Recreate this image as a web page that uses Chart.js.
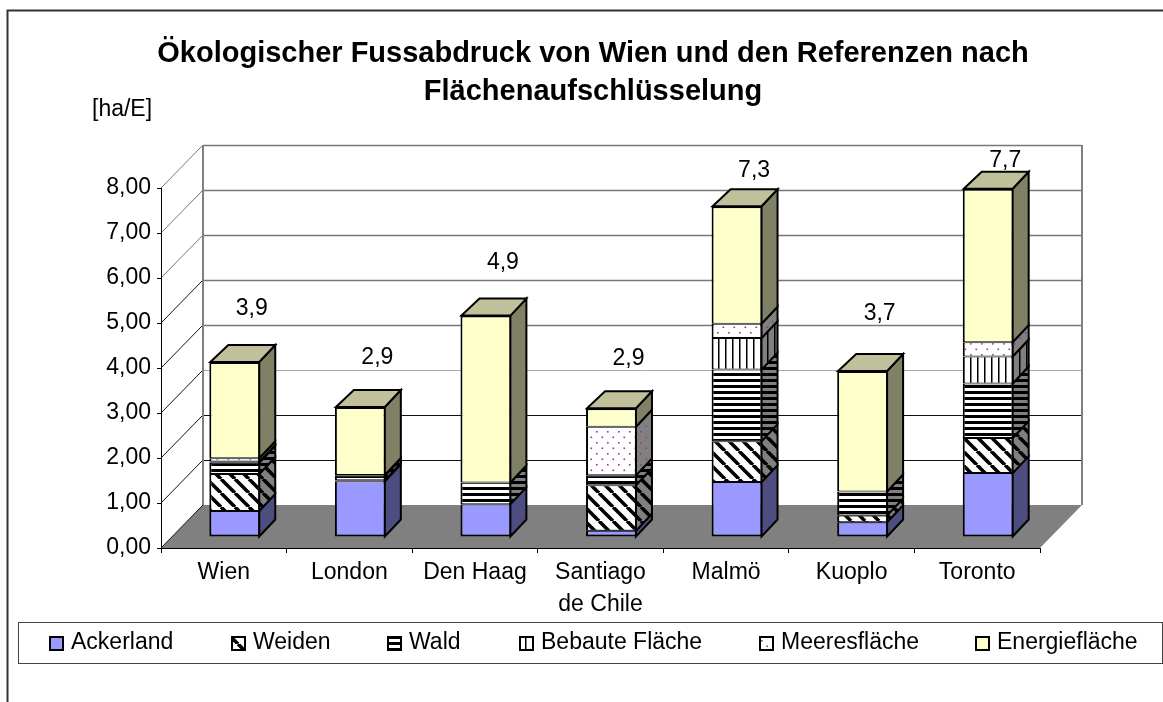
<!DOCTYPE html>
<html>
<head>
<meta charset="utf-8">
<title>Ökologischer Fussabdruck</title>
<script src="https://cdn.jsdelivr.net/npm/chart.js@4/dist/chart.umd.min.js"></script>
<style>
  html, body { margin: 0; padding: 0; background: #fff; }
  #wrap { width: 1163px; height: 702px; }
</style>
</head>
<body>
<div id="wrap"><canvas id="chart" width="1163" height="702"></canvas></div>
<script>
const cities = ['Wien', 'London', 'Den Haag', ['Santiago', 'de Chile'], 'Malmö', 'Kuoplo', 'Toronto'];
const totals = ['3,9', '2,9', '4,9', '2,9', '7,3', '3,7', '7,7'];

const ackerland = [0.58, 1.24, 0.73, 0.14, 1.22, 0.33, 1.42];
const weiden = [0.82, 0.02, 0.00, 1.01, 0.91, 0.15, 0.78];
const wald = [0.25, 0.10, 0.48, 0.22, 1.59, 0.53, 1.21];
const bebaut = [0.02, 0.02, 0.00, 0.00, 0.70, 0.00, 0.60];
const meer = [0.08, 0.00, 0.00, 1.08, 0.32, 0.00, 0.32];
const energie = [2.14, 1.51, 3.71, 0.41, 2.61, 2.68, 3.41];

const yTicks = [0, 1, 2, 3, 4, 5, 6, 7, 8];

// kleine Kachel für die Schraffur
function tile(w, h, bg, draw) {
    const c = document.createElement('canvas');
    c.width = w;
    c.height = h;
    const g = c.getContext('2d');
    g.fillStyle = bg;
    g.fillRect(0, 0, w, h);
    draw(g);
    return g.createPattern(c, 'repeat');
}

function hatchDiag(bg) {
    return tile(14, 14, bg, g => {
        g.strokeStyle = '#000';
        g.lineWidth = 3.6;
        g.beginPath();
        for (let i = -14; i <= 14; i += 14) {
            g.moveTo(i, 0);
            g.lineTo(i + 14, 14);
        }
        g.stroke();
    });
}

function hatchHor(bg) {
    return tile(8, 6, bg, g => {
        g.fillStyle = '#000';
        g.fillRect(0, 0, 8, 3);
    });
}

function hatchVer(bg) {
    return tile(7, 8, bg, g => {
        g.fillStyle = '#000';
        g.fillRect(0, 0, 1.5, 8);
    });
}

function dots(bg) {
    return tile(11, 11, bg, g => {
        g.fillStyle = '#993399';
        g.fillRect(2, 2, 1.6, 1.6);
        g.fillRect(7.5, 7.5, 1.6, 1.6);
    });
}

const series = [
    {label: 'Ackerland', data: ackerland, front: '#9999FF', side: '#4D4D80'},
    {label: 'Weiden', data: weiden, front: hatchDiag('#fff'), side: hatchDiag('#808080')},
    {label: 'Wald', data: wald, front: hatchHor('#fff'), side: hatchHor('#808080')},
    {label: 'Bebaute Fläche', data: bebaut, front: hatchVer('#fff'), side: hatchVer('#808080')},
    {label: 'Meeresfläche', data: meer, front: dots('#fff'), side: dots('#808080')},
    {label: 'Energiefläche', data: energie, front: '#FFFFCC', side: '#808066', top: '#C0C09A'}
];

const FONT = '"Liberation Sans", Arial, sans-serif';
const DEPTH_X = 42, DEPTH_Y = 43;   // Tiefe der Bodenplatte
const BAR_SHIFT = 11;               // Säulen stehen mitten auf der Platte
const BAR_DX = 16, BAR_DY = 17;     // Tiefe der Säulen
const labelLift = [53, 49, 53, 50, 36, 57, 28];

const room = {
    id: 'room',
    afterLayout(chart) {
        // Titel über die ganze Breite zentrieren, nicht über die Achse
        chart.titleBlock.left = 0;
        chart.titleBlock.right = 1186;
    },
    beforeDraw(chart) {
        const {ctx, scales: {x, y}} = chart;
        const l = x.left, r = x.right, b = y.bottom;
        ctx.save();
        // Rahmen
        ctx.strokeStyle = '#333';
        ctx.lineWidth = 2;
        ctx.beginPath();
        ctx.moveTo(7.5, 702);
        ctx.lineTo(7.5, 10.5);
        ctx.lineTo(1163, 10.5);
        ctx.stroke();
        // Boden
        ctx.fillStyle = '#808080';
        ctx.beginPath();
        ctx.moveTo(l, b);
        ctx.lineTo(r, b);
        ctx.lineTo(r + DEPTH_X, b - DEPTH_Y);
        ctx.lineTo(l + DEPTH_X, b - DEPTH_Y);
        ctx.closePath();
        ctx.fill();
        // Gitterlinien auf Rückwand und linker Seitenwand
        yTicks.forEach(v => {
            const py = y.getPixelForValue(v);
            if (v > 0) {
                ctx.strokeStyle = v >= 4 ? '#777' : (v === 3 ? '#aaa' : '#111');
                ctx.lineWidth = v >= 4 ? 1.5 : 1;
                ctx.beginPath();
                ctx.moveTo(l + DEPTH_X, py - DEPTH_Y + 0.5);
                ctx.lineTo(r + DEPTH_X, py - DEPTH_Y + 0.5);
                ctx.stroke();
            }
            ctx.strokeStyle = v >= 6 ? '#777' : '#111';
            ctx.lineWidth = 1;
            ctx.beginPath();
            ctx.moveTo(l, py);
            ctx.lineTo(l + DEPTH_X, py - DEPTH_Y);
            ctx.stroke();
        });
        // Wandkanten
        ctx.strokeStyle = '#808080';
        ctx.lineWidth = 2;
        ctx.beginPath();
        ctx.moveTo(l + DEPTH_X, b - DEPTH_Y);
        ctx.lineTo(l + DEPTH_X, y.top - DEPTH_Y);
        ctx.moveTo(r + DEPTH_X, b - DEPTH_Y);
        ctx.lineTo(r + DEPTH_X, y.top - DEPTH_Y);
        ctx.stroke();
        ctx.restore();
    },
    beforeDatasetsDraw(chart) {
        chart.ctx.save();
        chart.ctx.translate(BAR_SHIFT, -BAR_SHIFT);
    },
    afterDatasetsDraw(chart) {
        const {ctx} = chart;
        ctx.strokeStyle = '#000';
        ctx.lineWidth = 2;
        series.forEach((s, i) => {
            chart.getDatasetMeta(i).data.forEach((bar, k) => {
                if (s.data[k] <= 0) return;
                const right = bar.x + bar.width / 2 - 1;
                ctx.fillStyle = s.side;
                ctx.beginPath();
                ctx.moveTo(right, bar.y);
                ctx.lineTo(right + BAR_DX, bar.y - BAR_DY);
                ctx.lineTo(right + BAR_DX, bar.base - BAR_DY);
                ctx.lineTo(right, bar.base);
                ctx.closePath();
                ctx.fill();
                ctx.stroke();
                if (s.top) {
                    const left = bar.x - bar.width / 2 + 1;
                    ctx.fillStyle = s.top;
                    ctx.beginPath();
                    ctx.moveTo(left, bar.y);
                    ctx.lineTo(right, bar.y);
                    ctx.lineTo(right + BAR_DX, bar.y - BAR_DY);
                    ctx.lineTo(left + BAR_DX + 2, bar.y - BAR_DY);
                    ctx.closePath();
                    ctx.fill();
                    ctx.stroke();
                }
            });
        });
        ctx.restore();
        // Summen über den Säulen
        const meta = chart.getDatasetMeta(series.length - 1);
        ctx.save();
        ctx.fillStyle = '#000';
        ctx.font = '23px ' + FONT;
        ctx.textAlign = 'center';
        ctx.textBaseline = 'middle';
        totals.forEach((t, k) => {
            const bar = meta.data[k];
            ctx.fillText(t, bar.x + BAR_SHIFT + 17, bar.y - BAR_SHIFT - labelLift[k]);
        });
        ctx.restore();
    },
    afterDraw(chart) {
        const {ctx} = chart;
        ctx.save();
        ctx.fillStyle = '#000';
        ctx.font = '23px ' + FONT;
        ctx.textBaseline = 'middle';
        ctx.fillText('[ha/E]', 92, 110);
        // Legende
        ctx.strokeStyle = '#444';
        ctx.lineWidth = 1;
        ctx.strokeRect(18.5, 622.5, 1144, 41);
        const markers = [50, 232, 388, 520, 760, 976];
        series.forEach((s, i) => {
            const mx = markers[i];
            ctx.fillStyle = s.front;
            ctx.fillRect(mx, 637, 13, 13);
            ctx.lineWidth = 2;
            ctx.strokeStyle = '#000';
            ctx.strokeRect(mx, 637, 13, 13);
            ctx.fillStyle = '#000';
            ctx.fillText(s.label, mx + 21, 643);
        });
        ctx.restore();
    }
};

new Chart(document.getElementById('chart'), {
    type: 'bar',
    data: {
        labels: cities,
        datasets: series.map((s, i) => ({
            label: s.label,
            data: s.data,
            backgroundColor: s.front,
            borderColor: '#000',
            borderWidth: {left: 2, right: 2, top: i === series.length - 1 ? 2 : 1, bottom: i === 0 ? 2 : 1},
            borderSkipped: false,
            barPercentage: 0.52,
            categoryPercentage: 0.78,
            clip: false
        }))
    },
    options: {
        responsive: false,
        animation: false,
        layout: {padding: {left: 0, right: 123, top: 0, bottom: 0}},
        plugins: {
            legend: {display: false},
            tooltip: {enabled: false},
            title: {
                display: true,
                text: ['Ökologischer Fussabdruck von Wien und den Referenzen nach', 'Flächenaufschlüsselung'],
                color: '#000',
                font: {family: FONT, size: 29, weight: 'bold', lineHeight: 1.3},
                padding: {top: 35, bottom: 77.6}
            }
        },
        scales: {
            x: {
                stacked: true,
                afterFit(s) { s.height = 154; },
                border: {color: '#000', width: 1},
                grid: {drawOnChartArea: false, color: '#000', tickLength: 5},
                ticks: {
                    color: '#000',
                    maxRotation: 0,
                    autoSkip: false,
                    padding: 4,
                    font: {family: FONT, size: 23, lineHeight: 1.37}
                }
            },
            y: {
                stacked: true,
                min: 0,
                max: 8,
                afterFit(s) { s.width = 161; },
                afterBuildTicks(s) { s.ticks = yTicks.map(v => ({value: v})); },
                border: {color: '#000', width: 1},
                grid: {drawOnChartArea: false, color: '#000', tickLength: 4},
                ticks: {
                    color: '#000',
                    padding: 6,
                    font: {family: FONT, size: 23},
                    callback: v => v.toFixed(2).replace('.', ',')
                }
            }
        }
    },
    plugins: [room]
});
</script>
</body>
</html>
